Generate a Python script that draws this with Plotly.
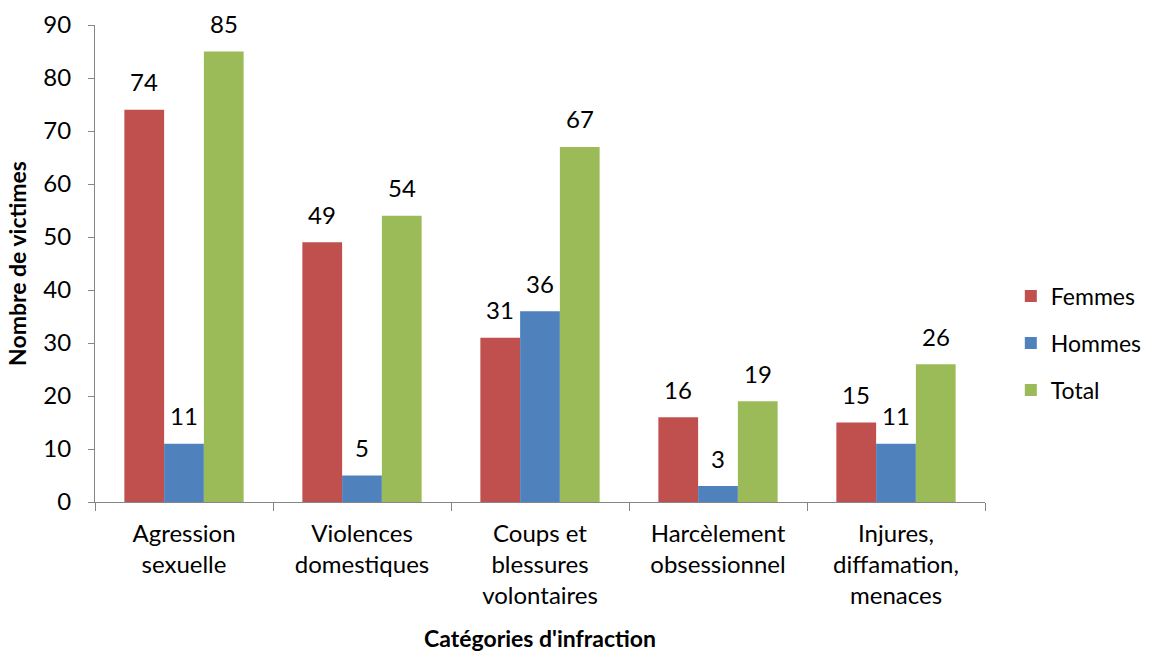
import plotly.graph_objects as go

categories = [
    "Agression<br>sexuelle",
    "Violences<br>domestiques",
    "Coups et<br>blessures<br>volontaires",
    "Harcèlement<br>obsessionnel",
    "Injures,<br>diffamation,<br>menaces",
]
femmes = [74, 49, 31, 16, 15]
hommes = [11, 5, 36, 3, 11]
total = [85, 54, 67, 19, 26]

series = [
    ("Femmes", femmes, "#C0504D"),
    ("Hommes", hommes, "#4F81BD"),
    ("Total", total, "#9BBB59"),
]

FONT = "Lato, 'Open Sans', sans-serif"
FS = 24
AXIS_GRAY = "#868686"

W, H = 1149, 653
ML, MR, MT, MB = 95, 164, 25, 151
BARGAP = 0.33
plot_w = W - ML - MR
cat_px = plot_w / len(categories)
bar_px = cat_px * (1 - BARGAP) / len(series)

fig = go.Figure()
annotations = []
for i, (name, values, color) in enumerate(series):
    fig.add_trace(go.Bar(
        name=name,
        x=categories,
        y=values,
        marker=dict(color=color, line=dict(width=0)),
        legendgroup=name,
    ))
    # value labels sitting above each bar
    for cat, v in zip(categories, values):
        annotations.append(dict(
            x=cat, y=v, xref="x", yref="y",
            text=str(v), showarrow=False,
            xanchor="center", yanchor="middle",
            xshift=(i - (len(series) - 1) / 2) * bar_px,
            yshift=28,
            font=dict(size=FS, family=FONT, color="#000000"),
        ))

fig.update_layout(
    width=W,
    height=H,
    barmode="group",
    bargap=BARGAP,
    bargroupgap=0,
    plot_bgcolor="white",
    paper_bgcolor="white",
    font=dict(family=FONT, size=FS, color="#000000"),
    margin=dict(l=ML, r=MR, t=MT, b=MB, autoexpand=False),
    legend=dict(
        x=1.029, y=0.333, xanchor="left", yanchor="middle",
        font=dict(size=FS - 1, family=FONT),
        tracegroupgap=14,
        traceorder="grouped",
        itemwidth=30,
    ),
    annotations=annotations,
)

fig.update_yaxes(
    range=[0, 90],
    dtick=10,
    showgrid=False,
    zeroline=False,
    showline=True,
    linecolor=AXIS_GRAY,
    linewidth=1,
    ticks="outside",
    ticklen=6,
    tickcolor=AXIS_GRAY,
    ticklabelstandoff=12,
    tickfont=dict(size=FS, family=FONT),
    automargin=False,
    title=dict(text="<b>Nombre de victimes</b>", font=dict(size=FS - 1, family=FONT), standoff=10),
)
fig.update_xaxes(
    showgrid=False,
    showline=True,
    linecolor=AXIS_GRAY,
    linewidth=1,
    ticks="outside",
    tickson="boundaries",
    ticklen=8,
    tickcolor=AXIS_GRAY,
    ticklabelstandoff=10,
    tickfont=dict(size=FS, family=FONT),
    tickangle=0,
    automargin=False,
    title=dict(text="<b>Catégories d'infraction</b>", font=dict(size=FS - 1, family=FONT), standoff=22),
)

fig.write_html("out.html")
